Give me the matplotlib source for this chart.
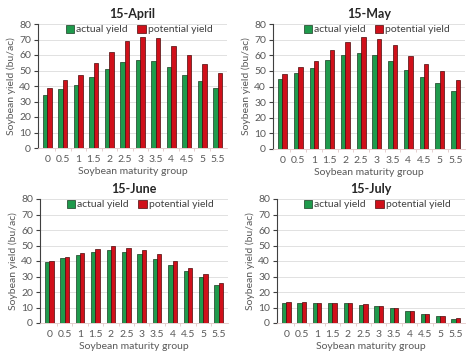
import matplotlib
matplotlib.use("Agg")
import matplotlib.pyplot as plt
import numpy as np

groups = ["0", "0.5", "1", "1.5", "2", "2.5", "3", "3.5", "4", "4.5", "5", "5.5"]
titles = ["15-April", "15-May", "15-June", "15-July"]

april_actual = [34.3, 38.0, 40.5, 46.0, 50.8, 55.4, 56.9, 56.2, 52.0, 47.2, 43.0, 38.4]
april_potential = [39.0, 43.8, 47.4, 55.0, 61.8, 69.1, 71.5, 71.2, 65.9, 59.7, 54.3, 48.5]
may_actual = [45.0, 48.5, 51.7, 57.0, 60.0, 61.5, 60.0, 56.2, 50.8, 46.1, 42.0, 37.3]
may_potential = [48.3, 52.3, 56.2, 63.5, 68.4, 71.8, 70.5, 66.3, 59.8, 54.3, 49.7, 44.0]
june_actual = [39.2, 42.0, 44.0, 45.9, 47.0, 46.1, 44.8, 41.4, 37.5, 33.6, 29.5, 24.6]
june_potential = [40.1, 42.9, 45.3, 47.6, 49.4, 48.7, 47.4, 44.2, 40.3, 35.8, 31.5, 25.6]
july_actual = [13.2, 13.2, 13.1, 12.9, 12.6, 11.8, 11.0, 9.6, 7.8, 5.8, 4.3, 2.9]
july_potential = [13.3, 13.3, 13.2, 13.0, 12.7, 12.0, 11.2, 9.8, 7.9, 6.0, 4.5, 3.1]

actuals = [april_actual, may_actual, june_actual, july_actual]
potentials = [april_potential, may_potential, june_potential, july_potential]

plt.rcParams['font.family'] = ['Lato', 'DejaVu Sans']

fig = plt.figure(figsize=(4.74, 3.55), dpi=100)
W, H = 474, 355
boxes = [(38, 24, 227, 148), (273, 24, 465, 149), (40, 199, 228, 323), (277, 199, 465, 323)]

green = "#1f9a4c"
red = "#d0101a"
x = np.arange(len(groups))
bw = 0.28

for i in range(4):
    l, t, r, b = boxes[i]
    ax = fig.add_axes([l / W, 1 - b / H, (r - l) / W, (b - t) / H])
    ax.bar(x - bw / 2, actuals[i], bw, color=green, edgecolor="#1a3a22", linewidth=0.5,
           label="actual yield", zorder=3)
    ax.bar(x + bw / 2, potentials[i], bw, color=red, edgecolor="#4a0a0a", linewidth=0.5,
           label="potential yield", zorder=3)
    ax.set_ylim(0, 80)
    ax.set_xlim(-0.6, len(groups) - 0.4)
    ax.set_yticks(range(0, 81, 10))
    ax.set_xticks(x)
    ax.set_xticklabels(groups)
    ax.set_xticks(x[:-1] + 0.5, minor=True)
    ax.grid(axis="y", color="#dcdcdc", linewidth=0.6, zorder=0)
    for s in ["top", "right"]:
        ax.spines[s].set_visible(False)
    ax.spines["bottom"].set_color("#e0c8c8")
    ax.spines["bottom"].set_linewidth(0.6)
    ax.spines["left"].set_color("#404040")
    ax.spines["left"].set_linewidth(0.8)
    ax.tick_params(axis="y", direction="out", length=3, width=0.8, color="#404040",
                   labelsize=7.5, labelcolor="#595959", pad=2)
    ax.tick_params(axis="x", which="major", length=0, labelsize=7.5, labelcolor="#595959", pad=5)
    ax.tick_params(axis="x", which="minor", length=2, width=0.6, color="#e0c8c8")
    ax.set_xlabel("Soybean maturity group", fontsize=7.5, color="#595959", labelpad=2)
    ax.set_ylabel("Soybean yield (bu/ac)", fontsize=7.5, color="#595959", labelpad=2)
    ax.set_title(titles[i], fontsize=9, fontweight="bold", color="#262626", pad=4)
    leg = ax.legend(loc="upper right", bbox_to_anchor=(0.95, 1.035), ncol=2, fontsize=7.5,
                    frameon=False, handlelength=0.8, handleheight=0.8, handletextpad=0.2,
                    columnspacing=0.9, borderaxespad=0.1, labelcolor="#404040")
    leg.set_zorder(10)

fig.savefig("out.png", dpi=100)
